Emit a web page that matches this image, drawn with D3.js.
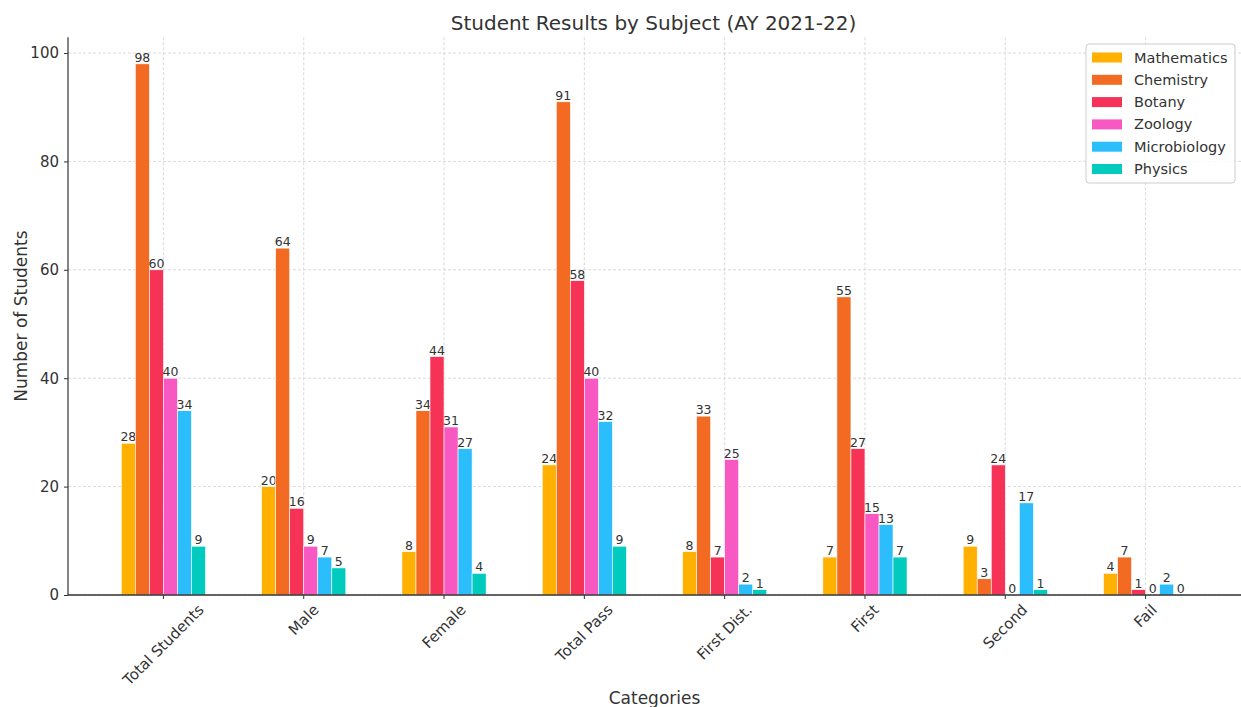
<!DOCTYPE html>
<html><head><meta charset="utf-8">
<script src="https://cdn.jsdelivr.net/npm/d3@7"></script>
<style>body{margin:0;background:#fff;} text{font-family:"DejaVu Sans",sans-serif;}</style>
</head><body>
<svg id="chart" width="1241" height="707"></svg>
<script>
const categories = ["Total Students","Male","Female","Total Pass","First Dist.","First","Second","Fail"];
const seriesNames = ["Mathematics","Chemistry","Botany","Zoology","Microbiology","Physics"];
const mathematics  = [28,20,8,24,8,7,9,4];
const chemistry    = [98,64,34,91,33,55,3,7];
const botany       = [60,16,44,58,7,27,24,1];
const zoology      = [40,9,31,40,25,15,0,0];
const microbiology = [34,7,27,32,2,13,17,2];
const physics      = [9,5,4,9,1,7,1,0];
const yTicks = [0,20,40,60,80,100];
const colors = ["#FFB000","#F36B23","#F63257","#F858C2","#2BBDFC","#00CBBE"];

(function(){
const seriesValues = [mathematics, chemistry, botany, zoology, microbiology, physics];
const svg = d3.select("#chart");
const pL = 68, pR = 1241, pT = 37.3, pB = 595;
const n = categories.length, barW = 0.1;
const x = d3.scaleLinear().domain([-0.68, n - 1 + 0.68]).range([pL, pR]);
const yMax = 98 * 1.05;
const y = d3.scaleLinear().domain([0, yMax]).range([pB, pT]);

// grid
const g = svg.append("g");
g.selectAll("line.vg").data(categories).enter().append("line")
  .attr("x1",(d,i)=>x(i)).attr("x2",(d,i)=>x(i)).attr("y1",pT).attr("y2",pB)
  .attr("stroke","#d0d0d0").attr("stroke-width",0.8).attr("stroke-dasharray","3,2");
g.selectAll("line.hg").data(yTicks).enter().append("line")
  .attr("x1",pL).attr("x2",pR).attr("y1",d=>y(d)).attr("y2",d=>y(d))
  .attr("stroke","#d0d0d0").attr("stroke-width",0.8).attr("stroke-dasharray","3,2");

// bars
seriesValues.forEach((vals, s) => {
  const off = (s - 2.5) * barW;
  svg.append("g").selectAll("rect").data(vals).enter().append("rect")
    .attr("x",(d,i)=>x(i + off - barW/2)).attr("width", x(barW) - x(0))
    .attr("y",d=>y(d)).attr("height",d=>pB - y(d))
    .attr("fill",colors[s]).attr("stroke","#fff").attr("stroke-width",0.6);
  svg.append("g").selectAll("text").data(vals).enter().append("text")
    .attr("x",(d,i)=>x(i + off)).attr("y",d=>y(d) - 2)
    .attr("text-anchor","middle").attr("font-size",12.5).attr("fill","#333")
    .text(d=>d);
});

// axes
const yAxis = d3.axisLeft(y).tickValues(yTicks).tickSize(4).tickPadding(5);
const ya = svg.append("g").attr("transform",`translate(${pL},0)`).call(yAxis);
ya.select(".domain").attr("stroke","#333").attr("stroke-width",1.2).attr("d",`M0,${pT}V${pB}`);
ya.selectAll(".tick line").attr("stroke","#333");
ya.selectAll(".tick text").attr("font-size",15).attr("fill","#333").attr("font-family","DejaVu Sans");

const xa = svg.append("g");
xa.append("line").attr("x1",pL).attr("x2",pR).attr("y1",pB).attr("y2",pB).attr("stroke","#333").attr("stroke-width",1.4);
categories.forEach((c,i)=>{
  xa.append("line").attr("x1",x(i)).attr("x2",x(i)).attr("y1",pB).attr("y2",pB+4).attr("stroke","#333");
  const t = xa.append("text").attr("font-size",15).attr("fill","#333")
    .attr("text-anchor","middle").attr("dominant-baseline","central").text(c);
  const L = t.node().getComputedTextLength();
  const half = (L + 15) * Math.SQRT1_2 / 2;
  const cx = x(i), cy = pB + 7 + half;
  t.attr("transform",`translate(${cx},${cy}) rotate(-45)`);
});

// titles
svg.append("text").attr("x",(pL+pR)/2 - 1).attr("y",30).attr("text-anchor","middle")
  .attr("font-size",20).attr("fill","#333").text("Student Results by Subject (AY 2021-22)");
svg.append("text").attr("x",(pL+pR)/2).attr("y",704).attr("text-anchor","middle")
  .attr("font-size",17).attr("fill","#333").text("Categories");
svg.append("text").attr("transform",`translate(27,${(pT+pB)/2}) rotate(-90)`).attr("text-anchor","middle")
  .attr("font-size",17).attr("fill","#333").text("Number of Students");

// legend
const lg = svg.append("g");
lg.append("rect").attr("x",1086).attr("y",44).attr("width",149).attr("height",139).attr("rx",3)
  .attr("fill","#fff").attr("fill-opacity",0.85).attr("stroke","#ccc");
seriesNames.forEach((s,i)=>{
  const yy = 57.5 + i*22.3;
  lg.append("rect").attr("x",1092).attr("y",yy-5).attr("width",30).attr("height",10).attr("fill",colors[i]);
  lg.append("text").attr("x",1134).attr("y",yy).attr("dominant-baseline","central")
    .attr("font-size",14.5).attr("fill","#333").text(s);
});
})();
</script>
</body></html>
